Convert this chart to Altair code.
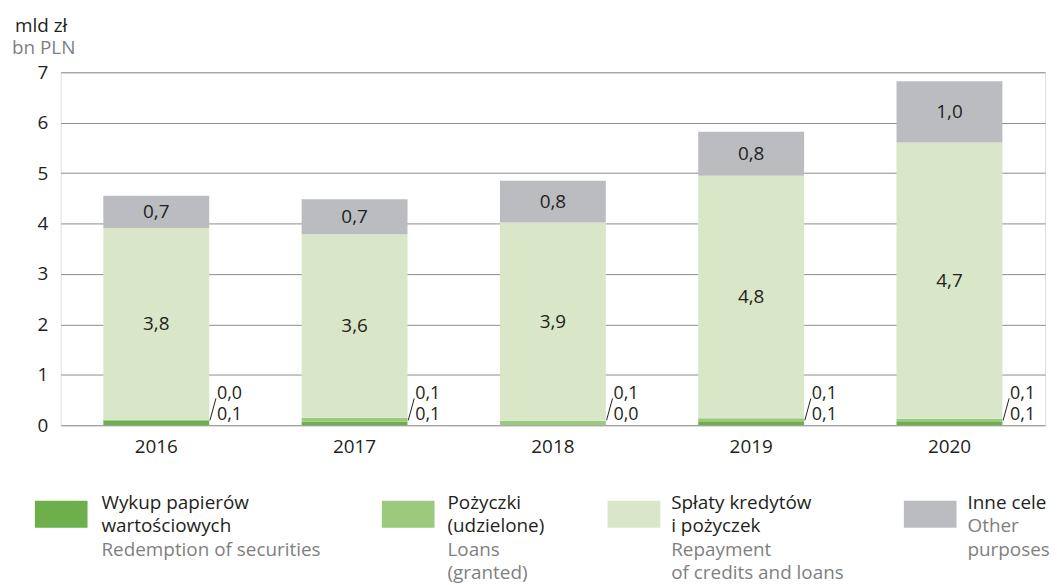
import altair as alt
import pandas as pd

# ---------------- data ----------------
YEARS = ["2016", "2017", "2018", "2019", "2020"]
CATS = ["Wykup papierów wartościowych", "Pożyczki (udzielone)",
        "Spłaty kredytów i pożyczek", "Inne cele"]
# drawn segment heights (bn PLN)
REDEMPTION = [0.10, 0.07, 0.00, 0.08, 0.08]
LOANS = [0.00, 0.08, 0.09, 0.06, 0.05]
REPAYMENT = [3.81, 3.64, 3.93, 4.81, 5.48]
OTHER = [0.64, 0.69, 0.83, 0.87, 1.21]
# printed labels
REDEMPTION_LBL = ["0,1", "0,1", "0,0", "0,1", "0,1"]
LOANS_LBL = ["0,0", "0,1", "0,1", "0,1", "0,1"]
REPAYMENT_LBL = ["3,8", "3,6", "3,9", "4,8", "4,7"]
OTHER_LBL = ["0,7", "0,7", "0,8", "0,8", "1,0"]
# legend texts
LEG_PL = [["Wykup papierów", "wartościowych"], ["Pożyczki", "(udzielone)"],
          ["Spłaty kredytów", "i pożyczek"], ["Inne cele"]]
LEG_EN = [["Redemption of securities"], ["Loans", "(granted)"],
          ["Repayment", "of credits and loans"], ["Other", "purposes"]]
Y_TICKS = [0, 1, 2, 3, 4, 5, 6, 7]

# ---------------- styles ----------------
COLORS = ["#6db04b", "#9dc97f", "#d9e7c8", "#bbbcc0"]
TXT = "#231f20"
GREY_TXT = "#7f7f7f"
FONT = "Open Sans"
FS = 19
LEG_SW_X = [-26, 323, 550, 848]
LEG_TX_X = [41, 389, 614, 912]

# ---------------- tables ----------------
rows = []
series = [REDEMPTION, LOANS, REPAYMENT, OTHER]
labels = [REDEMPTION_LBL, LOANS_LBL, REPAYMENT_LBL, OTHER_LBL]
for i, yr in enumerate(YEARS):
    base = 0.0
    for k, cat in enumerate(CATS):
        v = series[k][i]
        rows.append({"year": yr, "cat": cat, "order": k, "lo": base,
                     "hi": base + v, "mid": base + v / 2, "label": labels[k][i]})
        base += v
df = pd.DataFrame(rows)
df_in = df[df["cat"].isin([CATS[2], CATS[3]])]
df_small = pd.DataFrame({"year": YEARS, "top": LOANS_LBL, "bot": REDEMPTION_LBL})

xscale = alt.Scale(domain=YEARS, paddingInner=0.466, paddingOuter=0.215, align=0.5)
yscale = alt.Scale(domain=[0, 7], nice=False)

xax = alt.Axis(title=None, labelAngle=0, domain=False, ticks=False, grid=False,
               labelFontSize=FS, labelColor=TXT, labelFont=FONT, labelPadding=12)
yax = alt.Axis(title=None, values=Y_TICKS, domain=False, ticks=False, tickSize=0,
               grid=True, gridColor="#8c8c8c", gridWidth=1, labelFontSize=FS,
               labelColor=TXT, labelFont=FONT, labelPadding=13)

bars = alt.Chart(df).mark_bar().encode(
    x=alt.X("year:N", scale=xscale, axis=xax, sort=YEARS),
    y=alt.Y("lo:Q", scale=yscale, axis=yax),
    y2="hi:Q",
    color=alt.Color("cat:N", scale=alt.Scale(domain=CATS, range=COLORS), legend=None),
)

inner = alt.Chart(df_in).mark_text(fontSize=FS, color=TXT, font=FONT, baseline="middle").encode(
    x=alt.X("year:N", scale=xscale, sort=YEARS),
    y=alt.Y("mid:Q", scale=yscale),
    text="label:N",
)

SFS = 18
small_top = alt.Chart(df_small).mark_text(fontSize=SFS, color=TXT, font=FONT, align="left",
                                          baseline="middle", xOffset=61, dy=-31).encode(
    x=alt.X("year:N", scale=xscale, sort=YEARS), y=alt.datum(0), text="top:N")
small_bot = alt.Chart(df_small).mark_text(fontSize=SFS, color=TXT, font=FONT, align="left",
                                          baseline="middle", xOffset=61, dy=-10).encode(
    x=alt.X("year:N", scale=xscale, sort=YEARS), y=alt.datum(0), text="bot:N")
slash = alt.Chart(df_small).mark_rule(color=TXT, strokeWidth=1, xOffset=54, x2Offset=60,
                                      yOffset=-5, y2Offset=-27).encode(
    x=alt.X("year:N", scale=xscale, sort=YEARS), x2="year:N",
    y=alt.datum(0), y2=alt.datum(0))

one = pd.DataFrame({"k": [0]})
titles = [
    alt.Chart(one).mark_text(fontSize=FS, color=TXT, font=FONT, align="left",
                             baseline="alphabetic").encode(
        x=alt.value(-46), y=alt.value(-41), text=alt.value("mld zł")),
    alt.Chart(one).mark_text(fontSize=FS, color=GREY_TXT, font=FONT, align="left",
                             baseline="alphabetic").encode(
        x=alt.value(-49), y=alt.value(-18), text=alt.value("bn PLN")),
]

legend = []
LH = 23.5
for i in range(4):
    legend.append(alt.Chart(one).mark_rect(color=COLORS[i]).encode(
        x=alt.value(LEG_SW_X[i]), x2=alt.value(LEG_SW_X[i] + 53),
        y=alt.value(431), y2=alt.value(458)))
    legend.append(alt.Chart(one).mark_text(fontSize=FS, color=TXT, font=FONT, align="left",
                                           baseline="alphabetic", lineHeight=LH).encode(
        x=alt.value(LEG_TX_X[i]), y=alt.value(439), text=alt.value(LEG_PL[i])))
    legend.append(alt.Chart(one).mark_text(fontSize=FS, color=GREY_TXT, font=FONT, align="left",
                                           baseline="alphabetic", lineHeight=LH).encode(
        x=alt.value(LEG_TX_X[i]), y=alt.value(439 + LH * len(LEG_PL[i])),
        text=alt.value(LEG_EN[i])))

chart = alt.layer(bars, inner, small_top, small_bot, slash, *titles, *legend).properties(
    width=990, height=355,
    autosize=alt.AutoSizeParams(type="none"),
    padding={"left": 53, "top": 63, "right": 7, "bottom": 158},
).configure_view(stroke=None).configure(font=FONT)

chart.save("out.html", embed_options={"renderer": "svg", "actions": False})
